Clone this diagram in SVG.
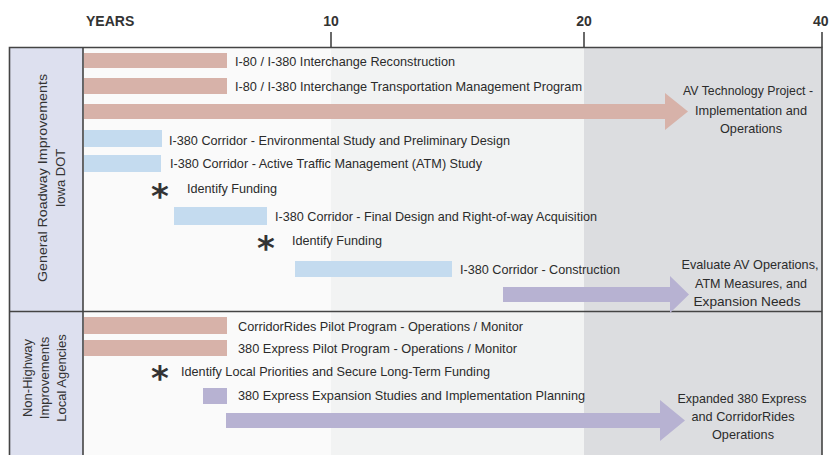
<svg xmlns="http://www.w3.org/2000/svg" width="829" height="455" viewBox="0 0 829 455">
<style>
.t{font-family:"Liberation Sans",Arial,sans-serif;font-size:13.5px;fill:#2b2b2b}
.c{text-anchor:middle}
.ax{font-family:"Liberation Sans",Arial,sans-serif;font-size:14px;font-weight:bold;fill:#333}
.side{font-family:"Liberation Sans",Arial,sans-serif;font-size:13px;fill:#333;text-anchor:middle}
.pk{fill:#d7b2a9}
.bl{fill:#c4dbef}
.pu{fill:#b7b2d2}
.ast{font-family:"DejaVu Sans",sans-serif;font-size:34px;font-weight:bold;fill:#333;text-anchor:middle}
.frame{fill:none;stroke:#444;stroke-width:1.6}
</style>
<rect width="829" height="455" fill="#ffffff"/>
<g id="background">
<rect x="83" y="47.5" width="248" height="410" fill="#fafafa"/>
<rect x="331" y="47.5" width="253" height="410" fill="#f2f3f3"/>
<rect x="584" y="47.5" width="238" height="410" fill="#dcdde0"/>
<rect x="9.5" y="47.5" width="73.5" height="410" fill="#dde0ef"/>
</g>
<g id="axis">
<text class="ax" x="86" y="26">YEARS</text>
<text class="ax c" x="331" y="26">10</text>
<text class="ax c" x="584" y="26">20</text>
<text class="ax" x="813" y="26">40</text>
<line x1="331" y1="32" x2="331" y2="47.5" stroke="#444" stroke-width="1.6"/>
<line x1="584" y1="32" x2="584" y2="47.5" stroke="#444" stroke-width="1.6"/>
<line x1="822" y1="32" x2="822" y2="47.5" stroke="#444" stroke-width="1.6"/>
</g>
<g id="frame">
<path class="frame" d="M9.5,460 V47.5 H822 V460"/>
<line class="frame" x1="83" y1="47.5" x2="83" y2="460"/>
<line class="frame" x1="9.5" y1="311.5" x2="822" y2="311.5"/>
</g>
<g id="section-dot">
<text class="side" transform="translate(47,178) rotate(-90)" textLength="208" lengthAdjust="spacingAndGlyphs">General Roadway Improvements</text>
<text class="side" transform="translate(65,178) rotate(-90)">Iowa DOT</text>
</g>
<g id="section-local">
<text class="side" transform="translate(32,378) rotate(-90)">Non-Highway</text>
<text class="side" transform="translate(49,378) rotate(-90)">Improvements</text>
<text class="side" transform="translate(66,378) rotate(-90)">Local Agencies</text>
</g>
<g id="connectors">
<polygon class="pk" points="84,104 665,104 665,93 688,111.5 665,130 665,119 84,119"/>
<polygon class="pu" points="503,287 670,287 670,276 689,294.5 670,313 670,302 503,302"/>
<polygon class="pu" points="226,413 660,413 660,400 685,420.5 660,441 660,428 226,428"/>
</g>
<g id="n1"><rect class="pk" x="84" y="53" width="143" height="15"/><text class="t" x="235" y="65.5" textLength="220" lengthAdjust="spacingAndGlyphs">I-80 / I-380 Interchange Reconstruction</text></g>
<g id="n2"><rect class="pk" x="84" y="78" width="143" height="16"/><text class="t" x="235" y="90.5" textLength="347" lengthAdjust="spacingAndGlyphs">I-80 / I-380 Interchange Transportation Management Program</text></g>
<g id="n3">
<text class="t c" x="748" y="95" textLength="130" lengthAdjust="spacingAndGlyphs">AV Technology Project -</text>
<text class="t c" x="751" y="115" textLength="112" lengthAdjust="spacingAndGlyphs">Implementation and</text>
<text class="t c" x="751" y="133" textLength="62" lengthAdjust="spacingAndGlyphs">Operations</text>
</g>
<g id="n4"><rect class="bl" x="84" y="130" width="78" height="17"/><text class="t" x="169" y="145" textLength="341" lengthAdjust="spacingAndGlyphs">I-380 Corridor - Environmental Study and Preliminary Design</text></g>
<g id="n5"><rect class="bl" x="84" y="155" width="77" height="17"/><text class="t" x="170" y="167.5" textLength="312" lengthAdjust="spacingAndGlyphs">I-380 Corridor - Active Traffic Management (ATM) Study</text></g>
<g id="n6"><text class="ast" x="160" y="208">*</text><text class="t" x="187" y="193" textLength="90" lengthAdjust="spacingAndGlyphs">Identify Funding</text></g>
<g id="n7"><rect class="bl" x="174" y="207" width="93" height="18"/><text class="t" x="275" y="221" textLength="322" lengthAdjust="spacingAndGlyphs">I-380 Corridor - Final Design and Right-of-way Acquisition</text></g>
<g id="n8"><text class="ast" x="266" y="260">*</text><text class="t" x="292" y="245" textLength="90" lengthAdjust="spacingAndGlyphs">Identify Funding</text></g>
<g id="n9"><rect class="bl" x="295" y="261" width="157" height="16"/><text class="t" x="460" y="273.5" textLength="160" lengthAdjust="spacingAndGlyphs">I-380 Corridor - Construction</text></g>
<g id="n10">
<text class="t c" x="750" y="269" textLength="137" lengthAdjust="spacingAndGlyphs">Evaluate AV Operations,</text>
<text class="t c" x="751" y="288" textLength="112" lengthAdjust="spacingAndGlyphs">ATM Measures, and</text>
<text class="t c" x="747" y="306" textLength="107" lengthAdjust="spacingAndGlyphs">Expansion Needs</text>
</g>
<g id="n11"><rect class="pk" x="84" y="317" width="143" height="17"/><text class="t" x="238" y="330.5" textLength="285" lengthAdjust="spacingAndGlyphs">CorridorRides Pilot Program - Operations / Monitor</text></g>
<g id="n12"><rect class="pk" x="84" y="340" width="143" height="16"/><text class="t" x="238" y="352.5" textLength="279" lengthAdjust="spacingAndGlyphs">380 Express Pilot Program - Operations / Monitor</text></g>
<g id="n13"><text class="ast" x="160" y="390">*</text><text class="t" x="181" y="376" textLength="309" lengthAdjust="spacingAndGlyphs">Identify Local Priorities and Secure Long-Term Funding</text></g>
<g id="n14"><rect class="pu" x="203" y="388" width="24" height="16"/><text class="t" x="238" y="400" textLength="347" lengthAdjust="spacingAndGlyphs">380 Express Expansion Studies and Implementation Planning</text></g>
<g id="n15">
<text class="t c" x="742" y="403" textLength="129" lengthAdjust="spacingAndGlyphs">Expanded 380 Express</text>
<text class="t c" x="743" y="421" textLength="103" lengthAdjust="spacingAndGlyphs">and CorridorRides</text>
<text class="t c" x="743" y="439" textLength="62" lengthAdjust="spacingAndGlyphs">Operations</text>
</g>
</svg>
